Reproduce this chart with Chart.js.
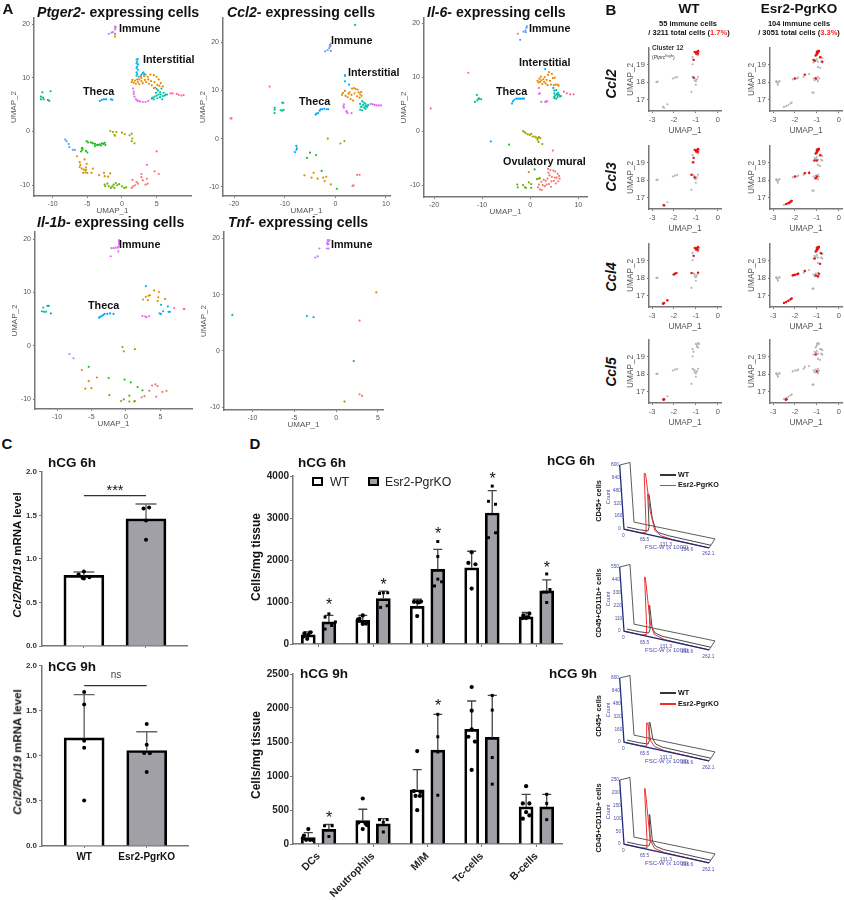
<!DOCTYPE html>
<html>
<head>
<meta charset="utf-8">
<title>Immune cells in Esr2-PgrKO ovary</title>
<script src="https://cdn.jsdelivr.net/npm/chart.js@4"></script>
<style>
  html, body { margin: 0; background: #fff; }
  #page { position: relative; width: 844px; height: 900px; overflow: hidden; font-family: "Liberation Sans", Arial, sans-serif; }
  #page canvas { position: absolute; }
  .txt { position: absolute; white-space: nowrap; line-height: 1; color: #111; }
</style>
</head>
<body>
<div id="page"></div>
<script>
/* =====================================
   Panel A data: UMAP cells per cluster
   each row is [cluster colour index, cells]
===================================== */
const clusterColors = ["#F8766D", "#D89000", "#E88B00", "#A3A500", "#6BB100", "#22BB22", "#00BF7D",
                       "#00BFA5", "#00B8E7", "#00A9FF", "#619CFF", "#C77CFF", "#E76BF3", "#FF67A4"];

const ptger2Cells = [
  [11, [[-1,19.6],[-1,19.3],[-.9,19.4],[-1,19],[-1.3,18.5],[-1.9,18.2],[-1.5,18.4]]],
  [4, [[-1,18.2]]],
  [2, [[-1,17.7]]],
  [8, [[2.1,13.4],[2.3,13.5],[2.2,13],[2.1,12.7],[2.3,12.5],[2.2,12.1],[2.1,11.8],[2.3,11.5],[2.1,11],[2.2,10.7],[2.1,10.4],[2.4,10.2],[3,10.9],[3.1,11],[3.2,10.7],[2.8,10.6]]],
  [2, [[1.4,9.2],[1.5,9.6],[1.7,9.1],[1.9,9.5],[2,8.9],[2.2,9.7],[2.3,9.2],[2.5,9.7],[2.5,8.8],[2.8,10],[2.8,9.4],[3,9],[3.2,10.3],[3.3,9.6],[3.5,9.2],[3.7,10.2],[3.8,9.7],[3.9,8.9],[4.1,10.6],[4.2,9.4],[4.3,8.6],[4.6,10.5],[4.7,9.2],[4.8,8.2],[5,10.2],[5.1,8.7],[5.3,9.7],[5.4,8.5],[5.6,9],[5.9,8.4],[4.6,8.1],[2.7,10.3],[3.4,10.6]]],
  [7, [[5,7.9],[5.2,7.6],[5.5,7.3],[5.7,8],[5.6,6.9],[5.3,6.9],[5,6.7],[4.7,6.5],[4.4,6.3],[4.6,6],[5.1,6.2],[5.5,6.4],[5.9,6.6],[6.2,6.7],[6.5,6.9],[6,7.2],[4.9,7.2],[4.3,6.1],[5.8,6],[6.3,6.9]]],
  [12, [[1.6,8],[1.7,7.4],[1.8,6.5],[2,6],[2.3,5.7],[2.6,5.6],[3,5.5],[3.4,5.5],[3.8,5.7],[1.7,7],[2.2,5.8]]],
  [13, [[7,7.1],[7.3,7.1],[7.9,7],[8.2,6.8],[8.6,6.7],[8.9,6.8]]],
  [9, [[-3.2,5.7],[-2.9,5.9],[-2.6,6],[-2.3,6],[-1.6,6],[-1.4,5.9]]],
  [6, [[-11.5,7.3],[-11.7,6.5],[-11.4,6.3],[-11.7,6],[-11.3,6],[-10.7,5.9],[-10.5,5.7],[-10.3,7.5]]],
  [3, [[-1.7,.1],[-1.3,-.1],[-.8,-.1],[-1,-.8],[-1.1,-.6],[0,-.2],[.4,-.5],[1.1,-.7],[1.4,-.4],[1.5,-1.3],[1.8,-2.2],[1.4,-1.8]]],
  [5, [[-5.8,-3.1],[-5.7,-3.4],[-5.9,-3.7],[-5.2,-3.6],[-5,-3.9],[-5.1,-1.8],[-4.9,-2],[-4.5,-2],[-4.3,-2.1],[-4.2,-2.2],[-3.9,-2.3],[-3.6,-2.5],[-3.4,-2.5],[-3.2,-2.4],[-3,-2.6],[-2.7,-2.3],[-2.5,-2.1],[-2.4,-2.5],[-2.9,-2.2],[-3.9,-2.7],[-5.7,-3.1]]],
  [10, [[-8.2,-1.5],[-8,-1.8],[-7.7,-2.3],[-7.6,-2.9],[-7.1,-3.4],[-6.8,-3.4]]],
  [1, [[-6.5,-4.6],[-6.1,-5.7],[-6,-6.2],[-6.1,-6.6],[-5.8,-6.9],[-5.5,-7.1],[-5.2,-6.7],[-5.1,-6],[-5.4,-5.2],[-5.2,-7.2],[-5.3,-7.6],[-5.6,-7.7],[-5,-7.7],[-4.4,-7.7],[-4.2,-6.9],[-3.3,-8.1],[-2.6,-7.7],[-2.5,-8.3],[-2,-8.4],[-1.7,-7.8]]],
  [4, [[-2.5,-9.9],[-2.4,-10.2],[-2.1,-9.7],[-1.9,-10.2],[-1.6,-10.5],[-1.4,-10.2],[-1.2,-9.9],[-1.1,-10.5],[-.9,-9.6],[-.7,-10],[-.4,-9.8],[0,-10.2],[.3,-10.5],[.6,-10.4]]],
  [0, [[1.5,-9],[2.8,-7.9],[2.8,-8.5],[3,-9.1],[3.6,-8.8],[2.1,-9.4],[1.9,-10],[2.3,-9.7],[1.6,-10.2],[1.4,-10.5],[3.4,-9.9],[3.7,-9.7],[4.7,-7.4],[5.3,-7.9]]],
  [13, [[5,-3.7],[3.6,-6.2]]]
];

const ccl2Cells = [
  [13, [[-20.7,4.2],[-20.5,4.2],[-13,10.8]]],
  [6, [[-12,6.4],[-12,6],[-12,5.3],[-10.8,5.9],[-10.5,5.8],[-10.2,6],[-10.5,7.5],[-10.3,7.4]]],
  [9, [[-7.7,-1.5],[-7.6,-2],[-7.7,-2.3],[-8,-2.8]]],
  [10, [[-1.1,19.4],[-1,19.3],[-1,19.2],[-1.2,18.8],[-2,18.1],[-1.5,18.4],[-.9,18.2]]],
  [0, [[-.9,19.7]]],
  [7, [[3.9,23.6]]],
  [2, [[1.3,9.1],[1.5,9.5],[1.9,9.9],[2,8.9],[2.4,8.6],[2.6,9.3],[2.8,9.6],[3.2,9.1],[3.3,10.4],[3.7,10.5],[4,10.3],[4.4,10.2],[4.6,9.6],[4.9,9.2],[5.1,9.7],[5.2,8.9],[4.8,8.5],[3.8,9.4],[3,8.2],[3.5,7.9],[4.3,8.8]]],
  [8, [[1.9,13.2],[1.9,13],[1.9,11.9],[2.7,11.2]]],
  [7, [[4.9,7.2],[5.1,6.6],[5.3,7.8],[5.5,7],[5.7,6.4],[5.9,7.3],[6,6.2],[6.1,6.9],[6.3,6.6],[6.5,7],[4.9,6],[5.3,5.9],[5.6,7.5],[5.9,6.7],[5.2,6.6]]],
  [12, [[1.7,7.1],[1.6,6.7],[1.7,6.4],[2.2,5.7],[2.4,5.3],[2.2,5.6],[3.2,5.3],[7,7.2],[7.4,7.1],[7.8,7],[8.2,6.9],[8.6,6.9],[9,6.9]]],
  [9, [[-3.9,5],[-3.7,5.2],[-3.4,5.3],[-3.1,5.8],[-2.9,6.1],[-2.6,6.1],[-2.2,6.2],[-1.7,6.1],[-1.4,6.1]]],
  [3, [[-1.5,0],[1,-1],[1.8,-.5]]],
  [5, [[-5,-2.9],[-3.8,-3.4],[-5.6,-4],[-2.7,-6.7],[.3,-10.4]]],
  [1, [[-6.1,-7.6],[-4.3,-7.1],[-4.7,-8.1],[-3.5,-8.3],[-2.4,-8.1],[-2.1,-8.8],[-1.8,-7.9],[-.9,-9.5]]],
  [0, [[4.3,-7.5],[4.8,-7.5],[3.4,-9.8],[3.6,-9.7]]]
];

const il6Cells = [
  [13, [[-20.7,4.2],[-12.9,10.8],[4.7,-3.6]]],
  [0, [[-2.6,18]]],
  [10, [[-.7,19.4],[-1,18.6],[-1.4,18.4],[-2.1,16.9],[-.9,18.3],[-.8,19.1]]],
  [8, [[2.8,12.6],[3.1,11.5]]],
  [2, [[1.5,9.3],[1.7,9],[1.9,9.7],[2,9.1],[2.2,10.1],[2.3,9.4],[2.5,8.7],[2.7,9.6],[2.9,9.1],[3,10],[3.2,8.8],[3.4,9.5],[3.6,8.5],[3.7,10.4],[3.9,10.9],[4.1,9.3],[4.3,8.6],[4.5,10.6],[4.7,9.8],[4.9,8.5],[5.1,9.9],[5.3,8.6],[5.7,8.6],[5.9,8.4]]],
  [7, [[4.8,8],[5,7.5],[5,7],[5.2,6.6],[5,6.1],[5.4,7.6],[5.5,6.9],[5.7,6.3],[5.8,7.1],[6,6.7],[6.2,6.4],[6.4,6.5],[5.4,6],[5.7,6.7],[5,6.4]]],
  [12, [[1.8,8],[1.8,6.9],[2,7],[2.3,5.4],[3.1,5.4],[3.3,5.5],[3.5,5.5]]],
  [13, [[7,7.3],[7.6,7],[8.3,6.8],[9,6.8]]],
  [9, [[-3.8,5.1],[-3.6,5.5],[-3.3,5.8],[-2.9,6],[-2.5,6],[-2.1,6],[-1.7,6],[-1.3,6],[-8.2,-1.9]]],
  [6, [[-11.5,5.4],[-11.1,6.7],[-11,5.7],[-10.8,6],[-10.6,6],[-10.2,5.9]]],
  [5, [[-4.4,-2.5],[.9,-7.1]]],
  [3, [[-1.5,0],[-1.2,-.2],[-.9,-.4],[-.5,-.6],[-.1,-.7],[.2,-.5],[.5,-1],[.9,-1],[1.2,-1.2],[1.6,-1.3],[1.8,-1.1],[1.5,-1.6],[2.1,-1.3],[1.7,-2],[2.5,-2.4]]],
  [0, [[3.7,-7],[4.2,-7.2],[4.8,-7.3],[5.2,-7.5],[5.7,-7.9],[6,-8.3],[6.1,-8.8],[5.8,-9.3],[5.3,-9.7],[4.9,-9.2],[4.5,-8.5],[4,-8.2],[3.6,-8.8],[3.2,-9.2],[2.8,-9],[2.3,-9.4],[2.6,-10],[3,-10.2],[3.4,-9.9],[3.9,-9.8],[4.3,-10.3],[2,-10.8],[2.4,-10.9],[1.6,-10.4],[1.8,-9.9],[3.8,-7.7],[5.1,-8.6],[5.5,-8.6],[4.4,-9.3]]],
  [4, [[-2.7,-9.9],[-2.6,-10.4],[-1.1,-10.4],[-.3,-9.5],[.2,-9.8],[-1.5,-10],[-.9,-10.5],[.2,-10.5],[1.4,-8.9],[1.8,-8.8],[2,-8.7]]],
  [1, [[-.3,-7.6]]]
];

const il1bCells = [
  [12, [[-1,19.8],[-.9,19.7],[-1,19.5],[-.9,19.3],[-1,19.1],[-.9,19],[-2.1,18.3],[-1.8,18.3],[-1.5,18.4],[-1.2,18.4],[-1.1,18.6],[-1.1,17.7],[-2.2,16.8],[2.4,5.6],[2.8,5.5],[3,5.4],[3.4,5.6]]],
  [9, [[-3.9,5.3],[-3.7,5.5],[-3.5,5.6],[-3.3,5.8],[-3.1,6],[-2.7,6],[-2.3,6.1],[-1.8,6]]],
  [7, [[-12.2,6.5],[-11.9,6.4],[-12,7.2],[-11.4,7.5],[-11.2,7.5],[-10.9,6.1],[-11.6,6.4]]],
  [8, [[2.9,11.2],[5.1,7.7],[5.4,6.5],[4.9,6.1],[5.1,6],[6.1,7.4],[6.2,6.4],[6.4,6.4]]],
  [2, [[4.1,10.4],[4.8,10.1],[2.9,9.2],[3.3,9.4],[3.5,9.5],[2.5,8.7],[3.2,8.6],[4.7,9.1],[4.6,8.4],[5.7,8.8]]],
  [13, [[7,7.1],[8.5,6.9],[8.4,6.9]]],
  [11, [[-8.2,-1.5],[-7.6,-2.3]]],
  [3, [[-.5,-.2],[-.3,-1],[1.3,-.6]]],
  [5, [[-5.4,-3.9],[-2.5,-6],[-.2,-6.3],[.7,-6.8],[1.7,-7.7],[2.4,-8.3]]],
  [1, [[-6.4,-4.5],[-5.4,-6.6],[-4.2,-5.9],[-5.9,-8],[-5,-7.9]]],
  [4, [[-2.4,-9.2],[-.7,-10.3],[-.3,-10],[.5,-9.3],[.5,-10.4],[1.2,-10.4],[1.3,-10.3]]],
  [0, [[3.8,-7.4],[4.3,-7.2],[4.6,-7.5],[3.4,-8.4],[2.7,-9.4],[2.3,-9.6],[4.4,-9.5],[5.3,-8.6],[5.9,-8.4]]]
];

const tnfCells = [
  [7, [[-12.4,6.4]]],
  [8, [[-3.5,6.2],[-2.7,6]]],
  [2, [[4.8,10.4]]],
  [13, [[2.8,5.4]]],
  [5, [[2.1,-1.8]]],
  [0, [[2.8,-7.7],[3.1,-8]]],
  [4, [[1,-9]]],
  [11, [[-1,19.7],[-1,19.4],[-1.1,19.1],[-.9,19.5],[-.9,19],[-.8,19.7],[-1,18.9],[-1.1,18.2],[-.9,18.2],[-2,18.2],[-2.2,16.8],[-2.5,16.6]]]
];

/* =====================================
   Panel B data: immune cluster cells
===================================== */
const wtGrey = [[-2.8,18],[-2.75,18.02],[-2.45,16.55],[-2.5,16.6],[-2.3,16.75],[-2.05,18.2],[-1.95,18.25],[-1.85,18.28],[-1.2,17.45],[-1.15,18.3],[-1.1,18.25],[-1.05,18.2],[-1.05,18.1],[-1,18.05],[-.95,18.15],[-.9,18.3],[-1,17.85],[-1.15,19.4],[-1.1,19.25],[-1.15,19],[-1,19.7],[-.95,19.65],[-.9,19.75],[-.85,19.7],[-.95,19.55],[-.9,19.5]];
const koGrey = [[-2.85,18.05],[-2.8,17.95],[-2.75,18],[-2.7,18.05],[-2.85,18],[-2.78,17.85],[-2.1,18.15],[-2,18.2],[-1.9,18.2],[-1.85,18.25],[-1.6,18.3],[-1.55,18.4],[-1.35,18.45],[-1.2,17.4],[-1.15,17.4],[-1.15,18.2],[-1.1,18.1],[-1,18.15],[-.95,18.05],[-.9,18.2],[-.95,18.3],[-1.05,18.25],[-2.5,16.6],[-2.4,16.65],[-2.3,16.72],[-2.2,16.8],[-2.15,16.85],[-1.15,19.1],[-1.1,19.25],[-1.05,19.2],[-1,19.3],[-.95,19.15],[-.85,19.4],[-.8,19.4],[-.75,19.35],[-.8,19.15],[-.75,19.1],[-.95,18.85],[-.85,18.8],[-1,19.6],[-1,19.7],[-.95,19.75],[-.9,19.7],[-1.05,19.5]];

const genes = ["Ccl2", "Ccl3", "Ccl4", "Ccl5"];
const wtTop = [[-1,19.65],[-.95,19.7],[-.9,19.75],[-.98,19.6],[-.9,19.6],[-1.05,19.7]];
const koTop = [[-1,19.7],[-.95,19.65],[-.9,19.75],[-1,19.55],[-1.05,19.5],[-.95,19.75],[-1,19.6]];
const wtRed = [
  wtTop.concat([[-1.1,19.25],[-1.1,18.25]]),
  wtTop.concat([[-1.1,19.25],[-1.12,19],[-2.45,16.58],[-1.05,18.15],[-1.2,18.3]]),
  wtTop.concat([[-1.1,19.25],[-2,18.2],[-1.9,18.28],[-1.95,18.25],[-2.3,16.75],[-2.5,16.55],[-2.45,16.6],[-1.2,18.28],[-.9,18.3]]),
  [[-2.45,16.58],[-2.48,16.55]]
];
const koRed = [
  koTop.concat([[-1.1,19.2],[-.85,19.4],[-.75,19.15],[-1.55,18.42],[-2,18.2],[-1.05,18.2],[-1.15,19.25]]),
  koTop.concat([[-1.1,19.1],[-1,19.1],[-.85,19.4],[-1.55,18.38],[-1.35,18.4],[-2,18.2],[-2.3,16.7],[-2.25,16.72],[-2.2,16.78],[-2.15,16.82],[-2.4,16.65],[-1,18.2],[-1.05,18.1]]),
  koTop.concat([[-1.1,19.1],[-.8,19.4],[-.85,18.8],[-2.1,18.15],[-2.05,18.17],[-2,18.18],[-1.9,18.22],[-1.85,18.25],[-1.55,18.4],[-1.05,18.15],[-.95,18.1],[-.9,18.25],[-2.5,16.6],[-2.4,16.65],[-2.3,16.72],[-2.2,16.8],[-2.15,16.85]]),
  [[-2.42,16.55],[-2.38,16.58],[-1.05,19.1],[-1,18.15]]
];

/* =====================================
   Panel C data: Ccl2/Rpl19 (x offset, value)
===================================== */
const genotypes = ["WT", "Esr2-PgrKO"];
const c6hMeans = [0.81, 1.46];
const c6hTops = [0.85, 1.63];
const c6hWtPoints = [[0,.854],[-.085,.82],[0,.775],[.09,.79],[-.02,.78]];
const c6hKoPoints = [[-.04,1.58],[.05,1.59],[0,1.44],[0,1.22]];
const c9hMeans = [1.2, 1.06];
const c9hTops = [1.68, 1.268];
const c9hWtPoints = [[0,1.71],[0,1.57],[0,1.167],[0,1.09],[0,.504]];
const c9hKoPoints = [[0,1.355],[0,1.123],[-.04,1.033],[.05,1.03],[0,.822]];

/* =====================================
   Panel D data: cells/mg tissue
===================================== */
const cellTypes = ["DCs", "Neutrophils", "M/M", "Tc-cells", "B-cells"];
const d6hWtMeans = [216, 564, 895, 1814, 648];
const d6hKoMeans = [525, 1081, 1776, 3119, 1266];
const d6hWtTops = [290, 680, 1065, 2208, 750];
const d6hKoTops = [680, 1258, 2254, 3652, 1529];
const d6hWtPoints = [
  [[-.07,255],[.04,278],[0,216],[-.09,178],[-.02,124]],
  [[0,680],[-.06,602],[.06,486],[0,479],[-.09,580]],
  [[-.06,1003],[0,1000],[.07,1011],[0,664],[.03,990]],
  [[0,2185],[-.06,1930],[.07,1899],[0,1320]],
  [[.06,726],[-.05,680],[0,618],[-.06,618],[.04,640]]
];
const d6hKoPoints = [
  [[0,718],[-.07,641],[.12,525],[.05,440],[-.07,355]],
  [[-.07,1204],[0,1220],[.08,1220],[-.05,872],[.07,911]],
  [[0,2440],[0,2084],[0,1544],[.07,1482],[-.06,1382]],
  [[0,3760],[-.07,3397],[.06,3327],[.06,2648],[-.07,2532]],
  [[0,1668],[.06,1297],[-.06,1235],[0,1235],[0,988]]
];
const d6hStars = [[0,1004],[1,1475],[2,2694],[3,4000],[4,1876]];

const d9hWtMeans = [96, 344, 798, 1687, 545];
const d9hKoMeans = [215, 296, 1381, 1568, 545];
const d9hWtTops = [167, 511, 1095, 2103, 731];
const d9hKoTops = [287, 373, 1907, 2185, 731];
const d9hWtPoints = [
  [[0,220],[-.08,124],[-.04,62],[.03,62],[.08,62],[-.1,86]],
  [[0,669],[-.08,315],[.05,301],[0,220],[.08,277]],
  [[0,1367],[-.06,779],[.06,765],[-.03,707],[.05,707],[0,497]],
  [[0,2309],[0,1960],[0,1687],[-.06,1577],[.06,1506],[0,1090]],
  [[0,851],[-.06,597],[.06,597],[0,468],[.06,420],[-.06,373]]
];
const d9hKoPoints = [
  [[-.08,268],[.06,268],[0,110]],
  [[-.07,358],[.07,358],[0,320],[0,177]],
  [[0,1907],[0,1577],[0,1353],[0,717]],
  [[0,2185],[0,1969],[0,1271],[0,880]],
  [[0,731],[0,597],[0,358]]
];
const d9hStars = [[0,420],[2,2070]];

/* =====================================
   Panel D data: FSC-W histograms [FSC-W, count]
===================================== */
const flowMaxCounts = [800, 550, 800, 250];
const flowCountTicks = [
  ["800","640","480","320","160","0"],
  ["550","440","330","220","110","0"],
  ["800","640","480","320","160","0"],
  ["250","200","150","100","50","0"]
];
const flowFscTicks = ["0", "65.5", "131.3", "196.6", "262.1"];
const flowWt = [
  [[0,0],[40,0],[66,10],[70,60],[73,484],[77,484],[82,190],[90,50],[100,16],[130,5],[262,0]],
  [[0,0],[40,0],[68,8],[73,40],[75,252],[77,252],[80,60],[88,20],[110,4],[262,0]],
  [[0,0],[40,0],[66,8],[71,60],[74,291],[77,291],[82,90],[90,30],[110,8],[262,0]],
  [[0,0],[40,0],[68,3],[74,20],[76,130],[78,130],[81,25],[90,8],[115,2],[262,0]]
];
const flowKo = [
  [[0,0],[55,0],[69,25],[75,764],[79,764],[86,300],[96,70],[115,20],[150,5],[262,0]],
  [[0,0],[55,0],[69,15],[72,100],[76,511],[78,511],[84,120],[94,30],[125,5],[262,0]],
  [[0,0],[55,0],[70,15],[75,308],[78,308],[84,90],[95,30],[125,6],[262,0]],
  [[0,0],[55,0],[70,5],[73,40],[76,238],[78,238],[83,40],[95,10],[125,2],[262,0]]
];

/* =====================================
   Helpers
===================================== */
const page = document.getElementById("page");
Chart.defaults.font.family = '"Liberation Sans", Arial, sans-serif';

function addText(html, x, y, opts = {}) {
    let el = document.createElement("div");
    el.className = "txt";
    el.innerHTML = html;
    el.style.left = x + "px";
    el.style.top = y + "px";
    el.style.fontSize = (opts.size || 10) + "px";
    el.style.fontWeight = opts.weight || "bold";
    if (opts.color) el.style.color = opts.color;
    let ax = opts.align === "left" ? "0" : "-50%";
    el.style.transform = "translate(" + ax + ",-50%)" + (opts.rotate ? " rotate(" + opts.rotate + "deg)" : "");
    page.appendChild(el);
    return el;
}

function fixedTicks(values) {
    return function (scale) {
        scale.ticks = values.map(v => ({ value: v }));
    };
}

// canvas is sized so the plot area lands exactly on rect
function makePlot(rect, margin, datasets, xOpts, yOpts, plugins = []) {
    let canvas = document.createElement("canvas");
    let pad = 3;
    canvas.width = rect.r - rect.l + margin.left + pad;
    canvas.height = rect.b - rect.t + margin.bottom + pad;
    canvas.style.left = (rect.l - margin.left) + "px";
    canvas.style.top = (rect.t - pad) + "px";
    page.appendChild(canvas);

    xOpts.afterFit = s => { s.height = margin.bottom; };
    yOpts.afterFit = s => { s.width = margin.left; };

    return new Chart(canvas, {
        type: "scatter",
        data: { datasets: datasets },
        options: {
            responsive: false,
            animation: false,
            devicePixelRatio: 1,
            layout: { autoPadding: false, padding: { top: pad, right: pad, left: 0, bottom: 0 } },
            plugins: { legend: { display: false }, tooltip: { enabled: false } },
            scales: { x: xOpts, y: yOpts }
        },
        plugins: plugins
    });
}

function axisOpts(type, min, max, ticks, o) {
    let axis = {
        type: "linear",
        min: min,
        max: max,
        offset: false,
        afterBuildTicks: fixedTicks(ticks),
        border: { color: o.line || "#777", width: o.lineWidth || 1.5 },
        grid: { offset: false, drawOnChartArea: false, color: o.line || "#777", tickLength: o.tickLength || 2, lineWidth: 1 },
        ticks: { autoSkip: false, maxRotation: 0, minRotation: 0, padding: o.padding === undefined ? 2 : o.padding,
                 color: o.color || "#555", font: { size: o.size || 7, weight: o.weight || "normal" } }
    };
    if (o.callback) axis.ticks.callback = o.callback;
    if (o.title) {
        axis.title = { display: true, text: o.title, color: "#555", padding: 0, font: { size: o.titleSize || 8 } };
    }
    return axis;
}

// error bars go up from the mean, drawn between the bars and the dots
function errorBarPlugin(items, color, width, cap) {
    return {
        id: "errorBars",
        afterDatasetDraw(chart, args) {
            if (args.index !== chart.data.datasets.length - 1) return;
            let ctx = chart.ctx, xs = chart.scales.x, ys = chart.scales.y;
            ctx.save();
            ctx.strokeStyle = color;
            ctx.lineWidth = width;
            items.forEach(b => {
                let px = xs.getPixelForValue(b.x);
                let y1 = ys.getPixelForValue(b.mean), y2 = ys.getPixelForValue(b.top);
                ctx.beginPath();
                ctx.moveTo(px, y1);
                ctx.lineTo(px, y2);
                ctx.moveTo(px - cap, y2);
                ctx.lineTo(px + cap, y2);
                ctx.stroke();
            });
            ctx.restore();
        }
    };
}

/* =====================================
   Panel A: UMAP scatter plots
===================================== */
function umapPlot(rows, rect, xRange, yRange, xTicks, yTicks) {
    let datasets = rows.map(row => ({
        data: row[1].map(p => ({ x: p[0], y: p[1] })),
        backgroundColor: clusterColors[row[0]],
        pointRadius: 1.1,
        borderWidth: 0
    }));
    makePlot(rect, { left: 25, bottom: 20 }, datasets,
        axisOpts("x", xRange[0], xRange[1], xTicks, { title: "UMAP_1" }),
        axisOpts("y", yRange[0], yRange[1], yTicks, { title: "UMAP_2" }));
}

umapPlot(ptger2Cells, { l: 34, t: 15, r: 191, b: 196 }, [-12.7, 9.96], [-12, 21.1], [-10,-5,0,5], [-10,0,10,20]);
umapPlot(ccl2Cells, { l: 223, t: 15, r: 390, b: 196 }, [-22.2, 10.8], [-11.9, 25], [-20,-10,0,10], [-10,0,10,20]);
umapPlot(il6Cells, { l: 424, t: 15, r: 587, b: 197 }, [-22.1, 11.8], [-12.2, 20.9], [-20,-10,0,10], [-10,0,10,20]);
umapPlot(il1bCells, { l: 35, t: 229, r: 192, b: 409 }, [-13.2, 9.6], [-11.8, 21.3], [-10,-5,0,5], [-10,0,10,20]);
umapPlot(tnfCells, { l: 224, t: 229, r: 383, b: 410 }, [-13.4, 5.6], [-10.5, 21.1], [-10,-5,0,5], [-10,0,10,20]);

addText("A", 8, 8, { size: 15 });
addText("<i>Ptger2-</i> expressing cells", 37, 12, { size: 14.1, align: "left" });
addText("<i>Ccl2-</i> expressing cells", 227, 12, { size: 14.1, align: "left" });
addText("<i>Il-6-</i> expressing cells", 427, 12, { size: 14.1, align: "left" });
addText("<i>Il-1b-</i> expressing cells", 37, 222, { size: 14.1, align: "left" });
addText("<i>Tnf-</i> expressing cells", 228, 222, { size: 14.1, align: "left" });

const umapLabelSize = 10.8;
[
  ["Immune", 119, 28], ["Interstitial", 143, 59], ["Theca", 83, 91],
  ["Immune", 331, 40], ["Interstitial", 348, 72], ["Theca", 299, 101],
  ["Immune", 529, 28], ["Interstitial", 519, 62], ["Theca", 496, 91], ["Ovulatory mural", 503, 161],
  ["Immune", 119, 244], ["Theca", 88, 305],
  ["Immune", 331, 244]
].forEach(l => addText(l[0], l[1], l[2], { size: umapLabelSize, align: "left" }));

/* =====================================
   Panel B: immune cluster UMAPs
===================================== */
const rowTops = [44, 142, 239.5, 336];
const rowCentres = [84, 176.7, 276.7, 371.7];

function immunePlot(grey, red, left, top) {
    let datasets = [
        { data: red.map(p => ({ x: p[0], y: p[1] })), backgroundColor: "#F01010", pointRadius: 1.2, borderWidth: 0 },
        { data: grey.map(p => ({ x: p[0], y: p[1] })), backgroundColor: "#B5B5B5", pointRadius: 1.1, borderWidth: 0 }
    ];
    makePlot({ l: left, t: top, r: left + 72, b: top + 67 }, { left: 23, bottom: 25 }, datasets,
        axisOpts("x", -3.14, .15, [-3,-2,-1,0], { size: 7.5, title: "UMAP_1", titleSize: 8.3 }),
        axisOpts("y", 16.37, 19.93, [17,18,19], { size: 8, title: "UMAP_2", titleSize: 8.3 }));
}

genes.forEach((gene, i) => {
    immunePlot(wtGrey, wtRed[i], 649, rowTops[i]);
    immunePlot(koGrey, koRed[i], 770, rowTops[i]);
    addText("<i>" + gene + "</i>", 611, rowCentres[i], { size: 14, rotate: -90 });
});

addText("B", 611, 9, { size: 15 });
addText("WT", 689, 9, { size: 13.5 });
addText("Esr2-PgrKO", 799, 9, { size: 13.5 });
addText("55 immune cells", 688, 24, { size: 7.5 });
addText('/ 3211 total cells (<span style="color:#f22">1.7%</span>)', 689, 33, { size: 7.5 });
addText("104 immune cells", 799, 24, { size: 7.5 });
addText('/ 3051 total cells (<span style="color:#f22">3.3%</span>)', 799, 33, { size: 7.5 });
addText("Cluster 12", 652, 48, { size: 6.5, align: "left", color: "#333" });
addText('(<i>Ptprc</i><sup style="font-size:4px">high</sup>)', 652, 57, { size: 5, align: "left", weight: "normal", color: "#333" });

/* =====================================
   Panel C: bar charts
===================================== */
function barsAndDots(means, tops, dotsByBar, xs, barWidth, dotRadius, dotStyle) {
    let dots = [];
    dotsByBar.forEach((list, i) => {
        list.forEach(p => dots.push({ x: xs[i] + p[0], y: p[1], style: dotStyle[i] }));
    });
    return {
        dots: {
            data: dots,
            backgroundColor: "#000",
            borderWidth: 0,
            pointRadius: dotRadius,
            pointStyle: c => c.raw ? c.raw.style : "circle"
        },
        bars: {
            type: "bar",
            data: means.map((m, i) => ({ x: xs[i], y: m })),
            grouped: false,
            barThickness: barWidth,
            backgroundColor: xs.map((x, i) => i % 2 === 0 ? "#fff" : "#A0A0A6"),
            borderColor: "#000",
            borderWidth: 2.7
        },
        errors: tops.map((t, i) => ({ x: xs[i], mean: means[i], top: t }))
    };
}

function rtPcrPlot(means, tops, wtPoints, koPoints, rect, bracketY, showLabels) {
    let parts = barsAndDots(means, tops, [wtPoints, koPoints], [0, 1], 40, 2, ["circle", "circle"]);
    let bracket = { data: [{ x: 0, y: bracketY }, { x: 1, y: bracketY }], showLine: true, pointRadius: 0, borderColor: "#333", borderWidth: 1.1 };
    let xAxis = axisOpts("x", -.674, 1.66, [0, 1], { line: "#777", size: 10, weight: "bold", color: "#111", padding: 3, tickLength: 2,
        callback: v => showLabels ? genotypes[v] : "" });
    let yAxis = axisOpts("y", 0, 2, [0, .5, 1, 1.5, 2], { line: "#777", size: 8, weight: "bold", color: "#333", tickLength: 3, padding: 2,
        callback: v => v.toFixed(1) });
    return makePlot(rect, { left: 42, bottom: 20 }, [parts.dots, bracket, parts.bars], xAxis, yAxis,
        [errorBarPlugin(parts.errors, "#666", 1.4, 10.5)]);
}

rtPcrPlot(c6hMeans, c6hTops, c6hWtPoints, c6hKoPoints, { l: 42, t: 467.7, r: 187, b: 645.7 }, 1.727, false);
rtPcrPlot(c9hMeans, c9hTops, c9hWtPoints, c9hKoPoints, { l: 42, t: 661.7, r: 188, b: 845.7 }, 1.78, true);

addText("C", 7, 443, { size: 15 });
addText("hCG 6h", 48, 463, { size: 13.5, align: "left" });
addText("hCG 9h", 48, 667, { size: 13.5, align: "left" });
addText("***", 115, 490, { size: 14.5, weight: "normal" });
addText("ns", 116, 675, { size: 10, weight: "normal", color: "#444" });
addText("<i>Ccl2/Rpl19</i> mRNA level", 18, 555, { size: 11.5, rotate: -90 });
addText("<i>Ccl2/Rpl19</i> mRNA level", 18, 752, { size: 11.5, rotate: -90 });

/* =====================================
   Panel D: cell counts
===================================== */
const barOffset = 0.189;

function countPlot(wtMeans, koMeans, wtTops, koTops, wtPoints, koPoints, rect, yMax, yTicks, showLabels, bottom) {
    let xs = [], means = [], tops = [], dots = [], styles = [];
    cellTypes.forEach((name, i) => {
        xs.push(i - barOffset, i + barOffset);
        means.push(wtMeans[i], koMeans[i]);
        tops.push(wtTops[i], koTops[i]);
        dots.push(wtPoints[i], koPoints[i]);
        styles.push("circle", "rect");
    });
    let parts = barsAndDots(means, tops, dots, xs, 14, 2.1, styles);
    let xAxis = axisOpts("x", -.47, 4.47, [0,1,2,3,4], { size: 10.5, weight: "bold", color: "#222", padding: 3, tickLength: 3,
        callback: v => showLabels ? cellTypes[v] : "" });
    xAxis.ticks.maxRotation = 45;
    xAxis.ticks.minRotation = 45;
    let yAxis = axisOpts("y", 0, yMax, yTicks, { size: 10, weight: "bold", color: "#222", tickLength: 3, padding: 1,
        callback: v => String(v) });
    return makePlot(rect, { left: 42, bottom: bottom }, [parts.dots, parts.bars], xAxis, yAxis,
        [errorBarPlugin(parts.errors, "#444", 1.3, 4.5)]);
}

function addStars(chart, stars) {
    stars.forEach(s => {
        let px = chart.scales.x.getPixelForValue(s[0] + barOffset);
        let py = chart.scales.y.getPixelForValue(s[1]);
        addText("*", px + parseFloat(chart.canvas.style.left), py + parseFloat(chart.canvas.style.top) + 3, { size: 16, weight: "normal" });
    });
}

let d6h = countPlot(d6hWtMeans, d6hKoMeans, d6hWtTops, d6hKoTops, d6hWtPoints, d6hKoPoints,
    { l: 293.3, t: 471.7, r: 563, b: 644.3 }, 4000, [0,1000,2000,3000,4000], false, 14);
let d9h = countPlot(d9hWtMeans, d9hKoMeans, d9hWtTops, d9hKoTops, d9hWtPoints, d9hKoPoints,
    { l: 293.3, t: 670, r: 563, b: 844.3 }, 2500, [0,500,1000,1500,2000,2500], true, 56);
addStars(d6h, d6hStars);
addStars(d9h, d9hStars);

addText("D", 255, 443, { size: 15 });
addText("hCG 6h", 298, 463, { size: 13.5, align: "left" });
addText("hCG 6h", 547, 461, { size: 13.5, align: "left" });
addText("hCG 9h", 300, 674, { size: 13.5, align: "left" });
addText("hCG 9h", 549, 674, { size: 13.5, align: "left" });
addText("Cells/mg tissue", 256, 557, { size: 12, rotate: -90 });
addText("Cells/mg tissue", 256, 755, { size: 12, rotate: -90 });

// legend of the upper count chart
[[312, "#fff", "WT", 330], [368, "#A0A0A6", "Esr2-PgrKO", 385]].forEach(item => {
    let box = document.createElement("div");
    box.style.cssText = "position:absolute;box-sizing:border-box;left:" + item[0] + "px;top:477px;width:11px;height:9px;border:2.4px solid #000;background:" + item[1];
    page.appendChild(box);
    addText(item[2], item[3], 481.7, { size: 12.3, weight: "normal", align: "left", color: "#222" });
});

/* =====================================
   Panel D: pseudo 3D FSC-W histograms
===================================== */
// oblique view: FSC-W runs down to the right, count runs up, depth goes to the back
function flowProject(fsc, count, depth, maxCount) {
    let c = count / maxCount * 800 * (1 - 0.07 * depth);
    return {
        x: 0.973 * fsc - 0.01625 * c + depth * (30 - 12 * fsc / 262),
        y: -0.2137 * fsc + 0.2388 * c + depth * (21 + 6 * fsc / 262)
    };
}

const flowTops = [457, 559.3, 670.3, 772.3];
const flowTitles = ["CD45+ cells", "CD45+CD11b+ cells", "CD45+ cells", "CD45+CD11b+ cells"];
const flowTitleY = [501, 603, 716, 818];

function flowPlot(i) {
    let max = flowMaxCounts[i];
    let line = (pts, color, width) => ({ data: pts, showLine: true, pointRadius: 0, borderColor: color, borderWidth: width, tension: 0 });
    let datasets = [
        line([flowProject(0, max, 0, max), flowProject(0, 0, 0, max), flowProject(262.1, 0, 0, max)], "#1C2E7C", 1.3),
        line(flowKo[i].map(p => flowProject(p[0], p[1], 0, max)), "#F03030", 1),
        line(flowWt[i].map(p => flowProject(p[0], p[1], 0.3, max)), "#333", .9),
        line([[0, max, 0], [0, max, 1], [0, 0, 1], [262.1, 0, 1], [262.1, 0, 0]].map(p => flowProject(p[0], p[1], p[2], max)), "#333", .8)
    ];
    let canvas = document.createElement("canvas");
    canvas.width = 110;
    canvas.height = 94;
    canvas.style.left = "612px";
    canvas.style.top = flowTops[i] + "px";
    page.appendChild(canvas);
    let chart = new Chart(canvas, {
        type: "scatter",
        data: { datasets: datasets },
        options: {
            responsive: false, animation: false, devicePixelRatio: 1,
            layout: { autoPadding: false, padding: 0 },
            plugins: { legend: { display: false }, tooltip: { enabled: false } },
            scales: {
                x: { type: "linear", min: -36, max: 294, display: false },
                y: { type: "linear", min: -65, max: 215, display: false }
            }
        }
    });

    let toPage = (x, y) => [612 + chart.scales.x.getPixelForValue(x), flowTops[i] + chart.scales.y.getPixelForValue(y)];
    let blue = { size: 4.8, weight: "normal", color: "#4B4BA8" };
    flowCountTicks[i].forEach((label, k) => {
        let p = flowProject(0, max * (5 - k) / 5, 0, max);
        let at = toPage(p.x - 14, p.y);
        addText(label, at[0], at[1], blue);
    });
    flowFscTicks.forEach((label, k) => {
        let p = flowProject(262.1 * k / 4, 0, 0, max);
        let at = toPage(p.x - 2, p.y - 19);
        addText(label, at[0], at[1], blue);
    });
    let fscAt = toPage(128, -54);
    addText("FSC-W (x 1000)", fscAt[0], fscAt[1], { size: 6, weight: "normal", color: "#4B4BA8" });
    let countAt = toPage(-44, 96);
    addText("Count", countAt[0], countAt[1], { size: 5.5, weight: "normal", color: "#4B4BA8", rotate: -90 });
    addText(flowTitles[i], 599, flowTitleY[i], { size: 7.4, rotate: -90 });
}

flowMaxCounts.forEach((m, i) => flowPlot(i));

// histogram legends
[[474, 484.5], [692, 703]].forEach(ys => {
    [[ys[0], "#333", "WT"], [ys[1], "#F03030", "Esr2-PgrKO"]].forEach(item => {
        let mark = document.createElement("div");
        mark.style.cssText = "position:absolute;left:660px;width:15.5px;height:1.5px;top:" + item[0] + "px;background:" + item[1];
        page.appendChild(mark);
        addText(item[2], 678, item[0] + .5, { size: 7.2, align: "left" });
    });
});
</script>
</body>
</html>
